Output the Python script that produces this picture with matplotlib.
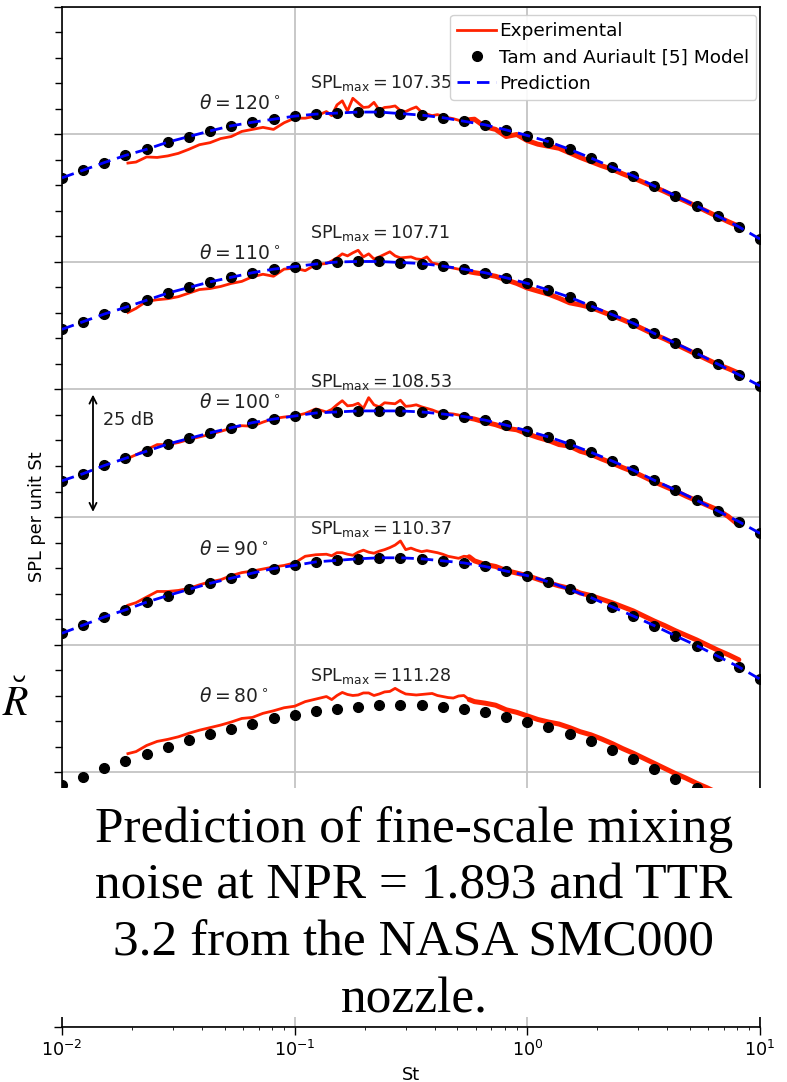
import numpy as np
import matplotlib
matplotlib.use("Agg")
import matplotlib.pyplot as plt
from matplotlib.patches import Rectangle

plt.rcParams["font.family"] = ["DejaVu Sans"]
plt.rcParams["font.size"] = 12.7

# ---------------------------------------------
# data (dB values on a shifted axis, 25 dB per grid line)
# ---------------------------------------------
angles = [120, 110, 100, 90, 80]
spl_max = ["107.35", "107.71", "108.53", "110.37", "111.28"]

st_model = [0.0100, 0.01233, 0.01520, 0.01874, 0.02310, 0.02848, 0.03511,
            0.04329, 0.05337, 0.06579, 0.08111, 0.1000, 0.1233, 0.1520,
            0.1874, 0.2310, 0.2848, 0.3511, 0.4329, 0.5337, 0.6579, 0.8111,
            1.000, 1.233, 1.520, 1.874, 2.310, 2.848, 3.511, 4.329, 5.337,
            6.579, 8.111, 10.00]

model_120 = [166.5, 168.0, 169.5, 170.9, 172.1, 173.5, 174.6, 175.7, 176.7, 177.4,
             178.0, 178.6, 179.0, 179.2, 179.4, 179.4, 179.1, 178.8, 178.3, 177.6,
             176.9, 175.9, 174.8, 173.6, 172.1, 170.4, 168.6, 166.9, 164.9, 163.0,
             161.0, 159.0, 156.9, 154.5]
model_110 = [136.8, 138.3, 139.8, 141.1, 142.5, 143.9, 145.0, 146.1, 147.0, 147.9,
             148.6, 149.1, 149.6, 150.0, 150.1, 150.1, 149.9, 149.7, 149.2, 148.6,
             147.9, 146.9, 145.8, 144.5, 143.1, 141.4, 139.7, 138.0, 136.0, 134.1,
             132.1, 130.0, 127.9, 125.7]
model_100 = [107.1, 108.5, 110.1, 111.5, 112.9, 114.3, 115.4, 116.5, 117.5, 118.5,
             119.2, 119.8, 120.4, 120.6, 120.8, 120.8, 120.8, 120.6, 120.2, 119.7,
             119.0, 118.0, 116.9, 115.7, 114.3, 112.7, 111.0, 109.2, 107.2, 105.3,
             103.3, 101.2, 99.1, 96.8]
model_90 = [77.2, 78.8, 80.4, 81.8, 83.3, 84.6, 85.8, 87.0, 88.0, 89.0,
            89.9, 90.5, 91.2, 91.5, 91.8, 92.0, 92.0, 91.8, 91.4, 91.0,
            90.3, 89.4, 88.5, 87.3, 85.8, 84.2, 82.4, 80.6, 78.7, 76.7,
            74.8, 72.7, 70.6, 68.2]
model_80 = [47.5, 49.1, 50.7, 52.2, 53.5, 55.0, 56.3, 57.5, 58.5, 59.5,
            60.5, 61.2, 61.9, 62.4, 62.8, 63.1, 63.2, 63.1, 62.8, 62.4,
            61.7, 60.8, 59.9, 58.8, 57.5, 56.0, 54.3, 52.5, 50.6, 48.6,
            46.8, 44.7, 42.5, 40.2]

st_exp = [0.0192, 0.02080, 0.02310, 0.02565, 0.02848, 0.03162, 0.03511, 0.03898,
          0.04329, 0.04806, 0.05337, 0.05926, 0.06579, 0.07305, 0.08111, 0.09006,
          0.1000, 0.1110, 0.1233, 0.1369,
          0.1443, 0.1520, 0.1602, 0.1687, 0.1778, 0.1874, 0.1974, 0.2080, 0.2192,
          0.2310, 0.2434, 0.2565, 0.2702, 0.2848, 0.3000, 0.3162, 0.3331, 0.3511,
          0.3699, 0.3898, 0.4107, 0.4329, 0.4560, 0.4806, 0.5063, 0.5337, 0.5623,
          0.5926, 0.6579, 0.7305, 0.8111, 0.9006, 1.000, 1.110, 1.233, 1.369,
          1.520, 1.687, 1.874, 2.080, 2.310, 2.565, 2.848, 3.162, 3.511, 3.898,
          4.329, 4.806, 5.337, 5.926, 6.579, 7.305, 8.111]

exp_120 = [169.4, 169.6, 170.6, 170.5, 170.8, 171.3, 172.1, 173.0, 173.4, 174.2,
           174.6, 175.6, 176.0, 176.4, 176.0, 177.3, 178.2, 178.2, 178.6, 179.5,
           178.7, 180.8, 181.6, 179.6, 182.1, 181.2, 180.3, 180.4, 181.3, 179.8,
           180.3, 180.4, 180.6, 179.7, 179.5, 180.0, 180.4, 179.4, 179.0, 178.7,
           178.9, 178.6, 178.3, 178.1, 177.8, 177.4, 177.9,
           178.0, 176.5, 176.0, 174.6, 175.0, 173.8, 173.1, 172.7, 172.3, 171.4,
           170.5, 169.7, 168.9, 168.2, 167.3, 166.5, 165.6, 164.7, 163.8, 162.8,
           161.9, 160.9, 159.9, 158.9, 157.9, 157.0]
exp_110 = [140.1, 140.9, 142.3, 142.6, 142.8, 143.2, 143.9, 144.6, 144.8, 145.2,
           145.8, 146.2, 147.1, 147.6, 147.2, 148.6, 148.8, 148.3, 149.5, 149.7,
           150.2, 150.8, 151.6, 151.2, 151.8, 152.3, 151.0, 151.6, 150.6, 151.0,
           151.5, 152.0, 151.2, 150.8, 150.9, 151.0, 150.6, 150.5, 151.0, 149.8,
           149.6, 149.2, 149.0, 148.8, 148.6, 148.4, 148.1,
           147.9, 147.6, 147.2, 146.5, 145.8, 144.9, 144.3, 143.7, 142.9, 142.0,
           141.6, 141.1, 140.3, 139.5, 138.7, 137.8, 136.8, 135.8, 134.9, 133.9,
           132.9, 131.9, 130.9, 129.9, 129.1, 128.2]
exp_100 = [111.5, 112.2, 113.2, 114.2, 114.2, 114.6, 115.2, 115.7, 116.2, 116.8,
           117.4, 117.9, 117.8, 118.6, 119.3, 119.6, 119.8, 120.3, 121.2, 120.6,
           121.1, 122.0, 122.8, 121.8, 121.9, 122.3, 121.3, 123.4, 122.0, 121.6,
           122.4, 122.3, 122.2, 122.9, 121.7, 121.8, 122.0, 121.6, 121.3, 121.0,
           120.6, 120.5, 120.3, 120.2, 120.0, 119.7, 119.4,
           119.2, 118.6, 118.1, 117.4, 117.1, 116.3, 115.6, 115.0, 114.2, 113.9,
           112.9, 112.3, 111.4, 110.6, 109.7, 108.9, 107.9, 106.9, 106.0, 105.1,
           104.1, 103.2, 102.3, 101.4, 100.1, 98.4]
exp_90 = [82.7, 83.2, 84.3, 85.4, 85.4, 85.6, 86.0, 86.7, 87.3, 87.7,
          88.5, 89.1, 89.4, 89.8, 90.2, 90.5, 91.0, 92.3, 92.6, 92.7,
          92.4, 93.0, 93.0, 92.7, 92.5, 93.1, 93.5, 93.1, 92.9, 93.3,
          93.6, 94.0, 94.5, 95.3, 93.6, 93.9, 93.5, 93.2, 93.4, 93.2,
          93.0, 92.7, 92.3, 92.1, 91.9, 92.3, 92.2,
          91.4, 90.7, 90.3, 89.5, 89.0, 88.5, 87.8, 87.1, 86.5, 86.0,
          85.1, 84.6, 83.9, 83.2, 82.4, 81.6, 80.6, 79.6, 78.7, 77.7,
          76.8, 75.9, 74.9, 73.9, 73.0, 72.0]
exp_80 = [53.6, 54.0, 55.2, 56.0, 56.4, 56.9, 57.6, 58.2, 58.7, 59.2,
          59.8, 60.5, 60.7, 61.5, 62.0, 62.6, 62.9, 63.8, 64.3, 64.8,
          64.2, 65.0, 65.6, 65.2, 65.0, 65.1, 65.5, 65.5, 65.0, 65.3,
          65.7, 65.8, 66.4, 65.8, 65.3, 65.2, 65.1, 65.2, 65.3, 65.4,
          65.0, 64.8, 64.6, 64.5, 64.9, 65.0, 64.2,
          63.8, 63.5, 63.1, 62.2, 61.7, 61.0, 60.3, 59.8, 59.4, 58.7,
          57.9, 57.3, 56.5, 55.6, 54.6, 53.7, 52.7, 51.7, 50.7, 49.7,
          48.8, 47.8, 46.9, 45.9, 45.0, 44.0]

models = [model_120, model_110, model_100, model_90, model_80]
exps = [exp_120, exp_110, exp_100, exp_90, exp_80]
has_prediction = [True, True, True, True, False]

caption = ["Prediction of fine-scale mixing",
           "noise at NPR = 1.893 and TTR",
           "3.2 from the NASA SMC000",
           "nozzle."]

# ---------------------------------------------
# plot
# ---------------------------------------------
fig = plt.figure(figsize=(7.87, 10.82), dpi=100)
ax = fig.add_axes([62 / 787, 1 - 1027 / 1082, 698 / 787, 1020 / 1082])

red = "#ff2200"
st_exp_a = np.array(st_exp)
thick = st_exp_a >= 0.55

for n, (ang, mod, ex, pred) in enumerate(zip(angles, models, exps, has_prediction)):
    ex = np.array(ex)
    ax.plot(st_exp, ex, color=red, lw=2.0, zorder=2,
            label="Experimental" if n == 0 else None)
    ax.plot(st_exp_a[thick], ex[thick], color=red, lw=3.6, zorder=2,
            solid_capstyle="round")
    ax.plot(st_model, mod, "o", color="black", ms=7, zorder=3,
            label="Tam and Auriault [5] Model" if n == 0 else None)
    if pred:
        ax.plot(st_model, mod, color="blue", lw=2.0, dashes=(4.5, 2.5), zorder=4,
                label="Prediction" if n == 0 else None)
    peak = max(mod)
    ax.text(0.0388, peak + 1.6, r"$\theta = %d^\circ$" % ang, va="center",
            fontsize=13.5, color="#222222")
    ax.text(0.1165, peak + 5.6, r"$\mathrm{SPL_{max}} = %s$" % spl_max[n],
            va="center", fontsize=12.6, color="#222222")

# 25 dB arrow
ax.annotate("", xy=(0.01359, 101.0), xytext=(0.01359, 124.0),
            arrowprops=dict(arrowstyle="<->", color="black", lw=1.3,
                            shrinkA=0, shrinkB=0))
ax.text(0.0150, 119.0, "25 dB", va="center", fontsize=12.7, color="#222222")

ax.set_xscale("log")
ax.set_xlim(1e-2, 1e1)
ax.set_ylim(0, 200)
ax.set_yticks(np.arange(0, 201, 25))
ax.set_yticks(np.arange(0, 201, 5), minor=True)
ax.tick_params(axis="y", labelleft=False, length=6, width=1)
ax.tick_params(axis="y", which="minor", length=5, width=1)
ax.tick_params(axis="x", which="major", length=6, width=1, labelsize=12.7)
ax.grid(True, which="major", color="#c4c4c4", lw=1.3)
ax.set_xlabel("St", fontsize=12.7)
ax.set_ylabel("SPL per unit St", fontsize=12.7, labelpad=3)
for s in ax.spines.values():
    s.set_linewidth(1.2)

leg = ax.legend(loc="upper right", bbox_to_anchor=(1.0, 0.996),
                borderaxespad=0.2, fontsize=13.3, handlelength=2.1,
                handletextpad=0.15, borderpad=0.4, labelspacing=0.45,
                framealpha=0.9)

# caption block laid over the lower part of the figure
fig.add_artist(Rectangle((0, 1 - 1017 / 1082), 1, (1017 - 788) / 1082,
                         transform=fig.transFigure, facecolor="white",
                         edgecolor="none", zorder=10))
for i, line in enumerate(caption):
    fig.text(0.526, 1 - (830 + 56.7 * i) / 1082, line, ha="center", va="center",
             family="Liberation Serif", fontsize=37, zorder=11)

fig.text(0.003, 1 - 703 / 1082, r"$\breve{R}$", ha="left", va="center",
         fontsize=30, math_fontfamily="stix", zorder=11)

fig.savefig("out.png", dpi=100)
